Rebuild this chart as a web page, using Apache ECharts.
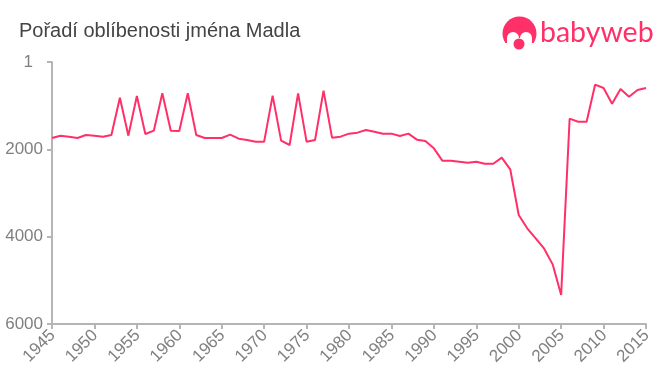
<!DOCTYPE html>
<html>
<head>
<meta charset="utf-8">
<title>Madla</title>
<script src="https://cdn.jsdelivr.net/npm/echarts@6/dist/echarts.min.js"></script>
<style>
html, body { margin: 0; padding: 0; background: #fff; }
#chart { width: 660px; height: 375px; }
</style>
</head>
<body>
<div id="chart"></div>
<script>
var titleText = 'Pořadí oblíbenosti jména Madla';
var logoText = 'babyweb';

var years = [];
for (var y = 1945; y <= 2015; y++) { years.push(String(y)); }

// poradi jmena
var ranks = [
    1740, 1687, 1710, 1740, 1672, 1687, 1710, 1672, 817, 1687,
    779, 1649, 1573, 717, 1573, 1580, 717, 1672, 1740, 1740,
    1740, 1664, 1756, 1786, 1825, 1825, 771, 1802, 1901, 717,
    1825, 1786, 657, 1733, 1710, 1641, 1618, 1557, 1596, 1641,
    1641, 1695, 1641, 1779, 1809, 1977, 2260, 2260, 2283, 2306,
    2283, 2329, 2329, 2191, 2457, 3504, 3809, 4038, 4275, 4634,
    5336, 1298, 1367, 1367, 519, 595, 954, 618, 794, 641,
    595
];

var rankTicks = { 0: '{one|1}', 2000: '2000', 4000: '4000', 6000: '6000' };

var pink = '#ff3068';
var axisColor = '#b5b5b5';
var labelColor = '#808080';
var fontName = '"Liberation Sans", Arial, sans-serif';

var chart = echarts.init(document.getElementById('chart'));

var option = {
    animation: false,
    grid: { left: 52, right: 14, top: 62, bottom: 51, containLabel: false },
    title: {
        text: titleText,
        left: 14,
        top: 16,
        textStyle: { fontFamily: fontName, fontSize: 20, fontWeight: 'normal', color: '#444444' }
    },
    xAxis: {
        type: 'category',
        position: 'bottom',
        data: years,
        boundaryGap: false,
        axisLine: { onZero: false, lineStyle: { color: axisColor, width: 2 } },
        axisTick: { alignWithLabel: true, interval: 4, length: 5, lineStyle: { color: axisColor, width: 2 } },
        axisLabel: {
            interval: 4,
            rotate: 45,
            margin: 8,
            verticalAlign: 'top',
            lineHeight: 2,
            color: labelColor,
            fontFamily: fontName,
            fontSize: 17
        },
        splitLine: { show: false }
    },
    yAxis: {
        type: 'value',
        inverse: true,
        min: 0,
        max: 6000,
        interval: 2000,
        axisLine: { show: true, lineStyle: { color: axisColor, width: 2 } },
        axisTick: { show: true, length: 5, lineStyle: { color: axisColor, width: 2 } },
        axisLabel: {
            margin: 9,
            color: labelColor,
            fontFamily: fontName,
            fontSize: 17,
            formatter: function (value) { return rankTicks[value]; },
            rich: {
                one: { color: labelColor, fontFamily: fontName, fontSize: 17, padding: [0, 10, 0, 0] }
            }
        },
        splitLine: { show: false }
    },
    series: [
        {
            type: 'line',
            data: ranks,
            symbol: 'none',
            smooth: false,
            lineStyle: { color: pink, width: 2 }
        }
    ],
    graphic: [
        // logo - hlava
        { type: 'circle', shape: { cx: 519.5, cy: 33.5, r: 17 }, style: { fill: pink } },
        { type: 'rect', shape: { x: 501, y: 43, width: 37, height: 9 }, style: { fill: '#fff' } },
        { type: 'circle', shape: { cx: 513, cy: 38, r: 6 }, style: { fill: '#fff' } },
        { type: 'circle', shape: { cx: 526, cy: 38, r: 6 }, style: { fill: '#fff' } },
        { type: 'rect', shape: { x: 507, y: 38, width: 25, height: 6 }, style: { fill: '#fff' } },
        { type: 'circle', shape: { cx: 519.5, cy: 32, r: 2.5 }, style: { fill: pink } },
        { type: 'circle', shape: { cx: 519, cy: 44, r: 5.5 }, style: { fill: pink } },
        {
            type: 'text',
            left: 540,
            top: 18,
            style: { text: logoText, fill: pink, font: '28.5px Lato, sans-serif' }
        }
    ]
};

chart.setOption(option, true);
</script>
</body>
</html>
